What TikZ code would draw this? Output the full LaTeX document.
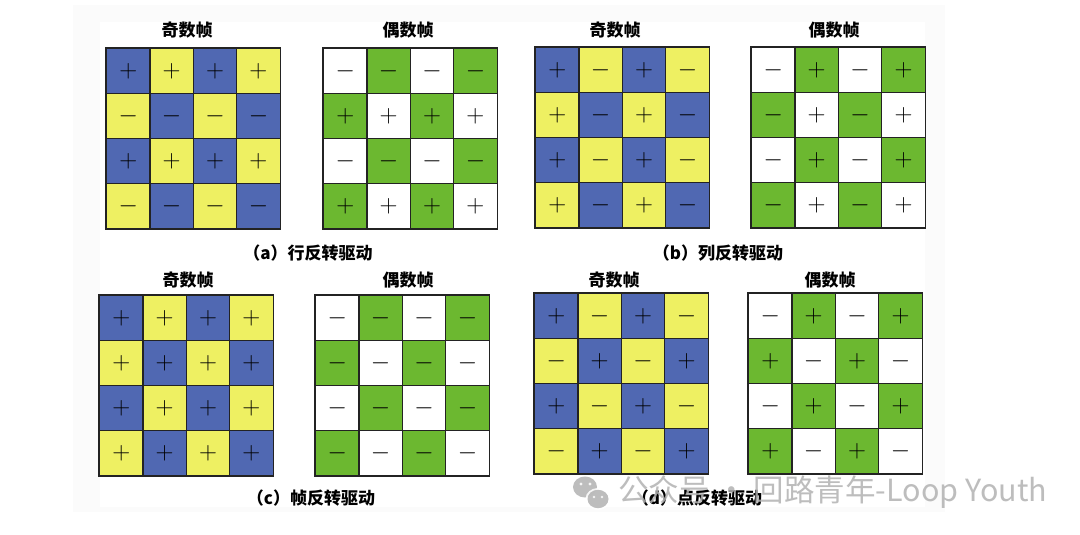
\documentclass[tikz,border=0pt]{standalone}
\usepackage{fontspec}
\newfontfamily\cjk{Noto Sans CJK SC}
\definecolor{cblue}{RGB}{80,104,178}
\definecolor{cyellow}{RGB}{238,240,98}
\definecolor{cgreen}{RGB}{108,184,48}
\definecolor{cline}{RGB}{35,35,35}
\definecolor{wmgray}{RGB}{178,178,178}
\tikzset{
 cell/.style={draw=cline, line width=1.1pt, minimum width=43.4pt, minimum height=45pt, inner sep=0pt, anchor=north west, font=\fontsize{24}{24}\selectfont},
 gridframe/.style={draw=cline, line width=1.5pt},
 title/.style={font=\cjk\bfseries\fontsize{17}{17}\selectfont, text=black},
 captxt/.style={font=\cjk\bfseries\fontsize{17}{17}\selectfont, text=black},
}
% #1 name, #2 x, #3 y, #4 colour (r+c even), #5 colour (r+c odd), #6 #7 #8 sign rule
\newcommand\mkgrid[8]{%
 \foreach \r in {0,...,3}{%
  \foreach \c in {0,...,3}{%
   \pgfmathtruncatemacro\kk{mod(\r+\c,2)}%
   \pgfmathtruncatemacro\ss{mod(#6*\r+#7*\c+#8,2)}%
   \ifnum\kk=0 \def\fc{#4}\else\def\fc{#5}\fi
   \ifnum\ss=0 \def\sg{$+$}\else\def\sg{$-$}\fi
   \node[cell, fill=\fc] (#1-\r-\c) at ({#2+\c*43.4},{#3+\r*45}) {\sg};
  }%
 }%
 \draw[gridframe] (#1-0-0.north west) rectangle (#1-3-3.south east);
}
\begin{document}
\begin{tikzpicture}[x=1pt,y=-1pt]
\useasboundingbox (0,0) rectangle (1080,535);
\fill[white] (0,0) rectangle (1080,535);
\fill[black!1.5] (73,5) rectangle (945,512);
\fill[white] (100,22) rectangle (925,507);

% (a)
\mkgrid{ao}{106}{48}{cblue}{cyellow}{1}{0}{0}
\mkgrid{ae}{323}{48}{white}{cgreen}{1}{0}{1}
\node[title] (tao) at (187,30) {奇数帧};
\node[title] (tae) at (408,30) {偶数帧};
\node[captxt] (capa) at (308,253) {（a）行反转驱动};

% (b)
\mkgrid{bo}{535}{47}{cblue}{cyellow}{0}{1}{0}
\mkgrid{be}{751}{47}{white}{cgreen}{0}{1}{1}
\node[title] (tbo) at (615,30) {奇数帧};
\node[title] (tbe) at (834,30) {偶数帧};
\node[captxt] (capb) at (718,253) {（b）列反转驱动};

% (c)
\mkgrid{co}{99}{295}{cblue}{cyellow}{0}{0}{0}
\mkgrid{ce}{315}{295}{white}{cgreen}{0}{0}{1}
\node[title] (tco) at (188,280) {奇数帧};
\node[title] (tce) at (408,280) {偶数帧};
\node[captxt] (capc) at (311,498) {（c）帧反转驱动};

% (d)
\mkgrid{do}{534}{293}{cblue}{cyellow}{1}{1}{0}
\mkgrid{de}{748}{293}{white}{cgreen}{1}{1}{1}
\node[title] (tdo) at (614,280) {奇数帧};
\node[title] (tde) at (830,280) {偶数帧};
\node[captxt] (capd) at (697,498) {（d）点反转驱动};

% watermark
\begin{scope}[opacity=0.85]
\fill[wmgray] (585,487) ellipse (12 and 10.5);
\fill[white] (598,499) ellipse (12.5 and 11);
\fill[wmgray] (598,499) ellipse (10.5 and 9.2);
\fill[white] (581,484) circle (1.6) (590,484) circle (1.6);
\fill[white] (594,497) circle (1.4) (602,497) circle (1.4);
\node[font=\cjk\fontsize{30.5}{30.5}\selectfont, text=wmgray, anchor=west, inner sep=0pt] (wm) at (618,492) {公众号 · 回路青年-Loop Youth};
\end{scope}
\end{tikzpicture}
\end{document}
